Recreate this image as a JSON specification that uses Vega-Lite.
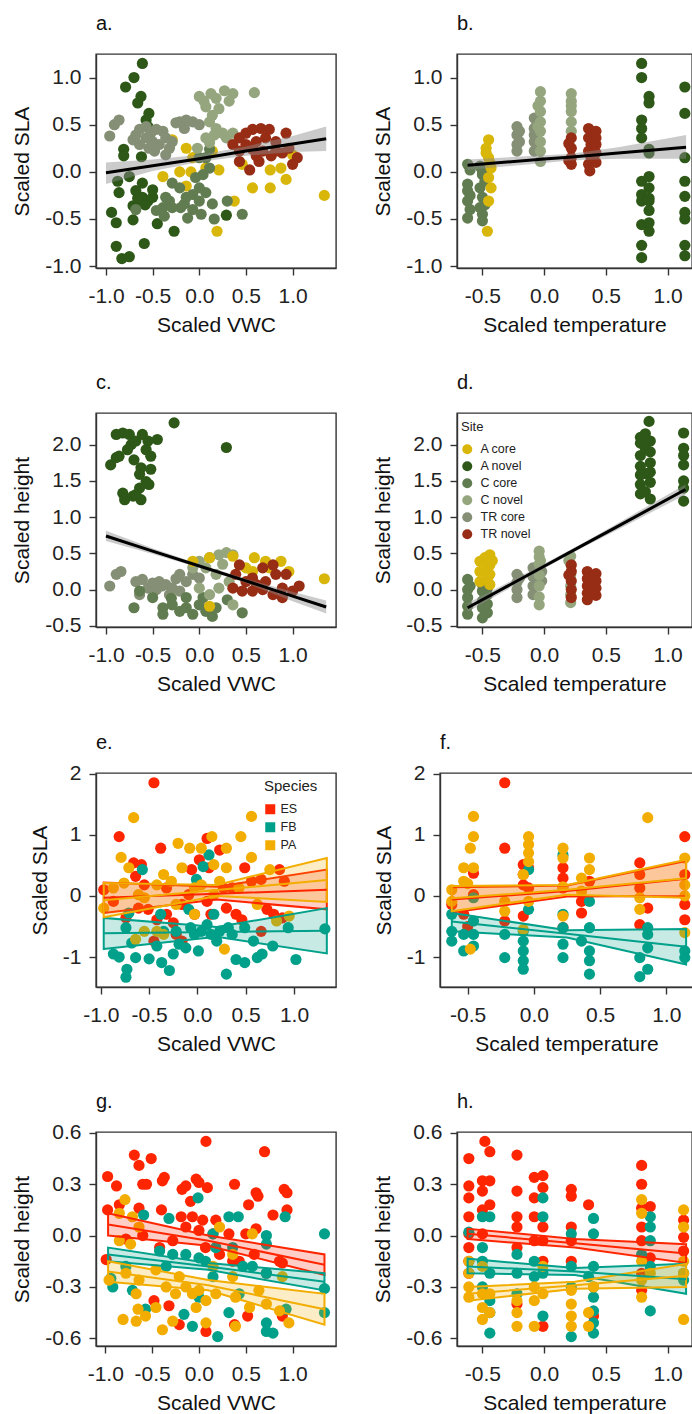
{
"$schema": "https://vega.github.io/schema/vega-lite/v6.json",
"padding": {"left": 11, "top": 13, "right": 0, "bottom": 0},
"background": "white",
"spacing": 36,
"resolve": {"scale": {"x": "independent", "y": "independent", "color": "independent", "stroke": "independent"}, "legend": {"color": "independent"}},
"vconcat": [
{"hconcat": [
{"title": {"text": "a."}, "width": 240, "height": 214,
 "encoding": {"x": {"field": "x", "type": "quantitative", "title": "Scaled VWC", "scale": {"domain": [-1.107, 1.465], "nice": false, "zero": false}, "axis": {"values": [-1, -0.5, 0, 0.5, 1], "labelExpr": "datum.value < 0 ? '-' + format(-datum.value, '.1f') : format(datum.value, '.1f')"}}},
 "layer": [
  {"data": {"name": "a"}, "mark": {"type": "circle", "size": 125, "opacity": 1}, "encoding": {"y": {"field": "y", "type": "quantitative", "title": "Scaled SLA", "scale": {"domain": [-1.02, 1.25], "nice": false, "zero": false}, "axis": {"values": [-1, -0.5, 0, 0.5, 1], "labelExpr": "datum.value < 0 ? '-' + format(-datum.value, '.1f') : format(datum.value, '.1f')"}}, "color": {"field": "site", "type": "nominal", "scale": {"domain": ["A core", "A novel", "C core", "C novel", "TR core", "TR novel"], "range": ["#D8B70A", "#2D5818", "#627C51", "#95A67F", "#858F75", "#972D15"]}, "legend": null}}},
  {"data": {"name": "aFit"}, "mark": {"type": "area", "color": "#8c8c8c", "opacity": 0.45}, "encoding": {"y": {"field": "lo", "type": "quantitative", "title": "Scaled SLA", "scale": {"domain": [-1.02, 1.25], "nice": false, "zero": false}}, "y2": {"field": "hi"}}},
  {"data": {"name": "aFit"}, "mark": {"type": "line", "color": "#000000", "strokeWidth": 3}, "encoding": {"y": {"field": "fit", "type": "quantitative", "title": "Scaled SLA", "scale": {"domain": [-1.02, 1.25], "nice": false, "zero": false}}}}
 ]},
{"title": {"text": "b."}, "width": 235, "height": 214,
 "encoding": {"x": {"field": "x", "type": "quantitative", "title": "Scaled temperature", "scale": {"domain": [-0.706, 1.198], "nice": false, "zero": false}, "axis": {"values": [-0.5, 0, 0.5, 1], "labelExpr": "datum.value < 0 ? '-' + format(-datum.value, '.1f') : format(datum.value, '.1f')"}}},
 "layer": [
  {"data": {"name": "b"}, "mark": {"type": "circle", "size": 125, "opacity": 1}, "encoding": {"y": {"field": "y", "type": "quantitative", "title": "Scaled SLA", "scale": {"domain": [-1.02, 1.25], "nice": false, "zero": false}, "axis": {"values": [-1, -0.5, 0, 0.5, 1], "labelExpr": "datum.value < 0 ? '-' + format(-datum.value, '.1f') : format(datum.value, '.1f')"}}, "color": {"field": "site", "type": "nominal", "scale": {"domain": ["A core", "A novel", "C core", "C novel", "TR core", "TR novel"], "range": ["#D8B70A", "#2D5818", "#627C51", "#95A67F", "#858F75", "#972D15"]}, "legend": null}}},
  {"data": {"name": "bFit"}, "mark": {"type": "area", "color": "#8c8c8c", "opacity": 0.45}, "encoding": {"y": {"field": "lo", "type": "quantitative", "title": "Scaled SLA", "scale": {"domain": [-1.02, 1.25], "nice": false, "zero": false}}, "y2": {"field": "hi"}}},
  {"data": {"name": "bFit"}, "mark": {"type": "line", "color": "#000000", "strokeWidth": 3}, "encoding": {"y": {"field": "fit", "type": "quantitative", "title": "Scaled SLA", "scale": {"domain": [-1.02, 1.25], "nice": false, "zero": false}}}}
 ]}
], "spacing": 35, "resolve": {"scale": {"x": "independent", "y": "independent", "color": "independent", "stroke": "independent"}, "legend": {"color": "independent"}}},
{"hconcat": [
{"title": {"text": "c."}, "width": 240, "height": 214,
 "encoding": {"x": {"field": "x", "type": "quantitative", "title": "Scaled VWC", "scale": {"domain": [-1.107, 1.465], "nice": false, "zero": false}, "axis": {"values": [-1, -0.5, 0, 0.5, 1], "labelExpr": "datum.value < 0 ? '-' + format(-datum.value, '.1f') : format(datum.value, '.1f')"}}},
 "layer": [
  {"data": {"name": "c"}, "mark": {"type": "circle", "size": 125, "opacity": 1}, "encoding": {"y": {"field": "y", "type": "quantitative", "title": "Scaled height", "scale": {"domain": [-0.516, 2.436], "nice": false, "zero": false}, "axis": {"values": [-0.5, 0, 0.5, 1, 1.5, 2], "labelExpr": "datum.value < 0 ? '-' + format(-datum.value, '.1f') : format(datum.value, '.1f')"}}, "color": {"field": "site", "type": "nominal", "scale": {"domain": ["A core", "A novel", "C core", "C novel", "TR core", "TR novel"], "range": ["#D8B70A", "#2D5818", "#627C51", "#95A67F", "#858F75", "#972D15"]}, "legend": null}}},
  {"data": {"name": "cFit"}, "mark": {"type": "area", "color": "#8c8c8c", "opacity": 0.45}, "encoding": {"y": {"field": "lo", "type": "quantitative", "title": "Scaled height", "scale": {"domain": [-0.516, 2.436], "nice": false, "zero": false}}, "y2": {"field": "hi"}}},
  {"data": {"name": "cFit"}, "mark": {"type": "line", "color": "#000000", "strokeWidth": 3}, "encoding": {"y": {"field": "fit", "type": "quantitative", "title": "Scaled height", "scale": {"domain": [-0.516, 2.436], "nice": false, "zero": false}}}}
 ]},
{"title": {"text": "d."}, "width": 235, "height": 214,
 "encoding": {"x": {"field": "x", "type": "quantitative", "title": "Scaled temperature", "scale": {"domain": [-0.706, 1.198], "nice": false, "zero": false}, "axis": {"values": [-0.5, 0, 0.5, 1], "labelExpr": "datum.value < 0 ? '-' + format(-datum.value, '.1f') : format(datum.value, '.1f')"}}},
 "layer": [
  {"data": {"name": "d"}, "mark": {"type": "circle", "size": 125, "opacity": 1}, "encoding": {"y": {"field": "y", "type": "quantitative", "title": "Scaled height", "scale": {"domain": [-0.516, 2.436], "nice": false, "zero": false}, "axis": {"values": [-0.5, 0, 0.5, 1, 1.5, 2], "labelExpr": "datum.value < 0 ? '-' + format(-datum.value, '.1f') : format(datum.value, '.1f')"}}, "color": {"field": "site", "type": "nominal", "scale": {"domain": ["A core", "A novel", "C core", "C novel", "TR core", "TR novel"], "range": ["#D8B70A", "#2D5818", "#627C51", "#95A67F", "#858F75", "#972D15"]}, "legend": {"title": "Site", "orient": "none", "legendX": 4, "legendY": 8, "titleFontSize": 13, "labelFontSize": 12.5, "symbolSize": 100, "symbolType": "circle", "rowPadding": 4, "labelOffset": 7, "titlePadding": 9, "symbolStrokeWidth": 0, "symbolOpacity": 1}}}},
  {"data": {"name": "dFit"}, "mark": {"type": "area", "color": "#8c8c8c", "opacity": 0.45}, "encoding": {"y": {"field": "lo", "type": "quantitative", "title": "Scaled height", "scale": {"domain": [-0.516, 2.436], "nice": false, "zero": false}}, "y2": {"field": "hi"}}},
  {"data": {"name": "dFit"}, "mark": {"type": "line", "color": "#000000", "strokeWidth": 3}, "encoding": {"y": {"field": "fit", "type": "quantitative", "title": "Scaled height", "scale": {"domain": [-0.516, 2.436], "nice": false, "zero": false}}}}
 ]}
], "spacing": 35, "resolve": {"scale": {"x": "independent", "y": "independent", "color": "independent", "stroke": "independent"}, "legend": {"color": "independent"}}},
{"hconcat": [
{"title": {"text": "e.", "offset": 10}, "width": 240, "height": 214,
 "encoding": {"x": {"field": "x", "type": "quantitative", "title": "Scaled VWC", "scale": {"domain": [-1.05, 1.435], "nice": false, "zero": false}, "axis": {"values": [-1, -0.5, 0, 0.5, 1], "labelExpr": "datum.value < 0 ? '-' + format(-datum.value, '.1f') : format(datum.value, '.1f')"}},
  "color": {"field": "species", "type": "nominal", "scale": {"domain": ["ES", "FB", "PA"], "range": ["#FF2500", "#00A08A", "#F2AD00"]}, "legend": {"title": "Species", "orient": "none", "legendX": 168, "legendY": 6, "symbolType": "square", "titleFontSize": 15, "labelFontSize": 12.5, "symbolSize": 100, "rowPadding": 5, "labelOffset": 4, "titlePadding": 9, "symbolOpacity": 1, "symbolStrokeWidth": 0}}},
 "layer": [
  {"data": {"name": "e"}, "mark": {"type": "circle", "size": 125, "opacity": 1}, "encoding": {"y": {"field": "y", "type": "quantitative", "title": "Scaled SLA", "scale": {"domain": [-1.49, 2.01], "nice": false, "zero": false}, "axis": {"values": [-1, 0, 1, 2], "labelExpr": "datum.value < 0 ? '-' + format(-datum.value, 'd') : format(datum.value, 'd')"}}}},
  {"data": {"name": "eFit"}, "mark": {"type": "area", "fillOpacity": 0.22, "strokeWidth": 2}, "encoding": {"y": {"field": "lo", "type": "quantitative", "title": "Scaled SLA", "scale": {"domain": [-1.49, 2.01], "nice": false, "zero": false}}, "y2": {"field": "hi"}, "stroke": {"field": "species", "type": "nominal", "scale": {"domain": ["ES", "FB", "PA"], "range": ["#FF2500", "#00A08A", "#F2AD00"]}, "legend": null}}},
  {"data": {"name": "eFit"}, "mark": {"type": "line", "strokeWidth": 2}, "encoding": {"y": {"field": "fit", "type": "quantitative", "title": "Scaled SLA", "scale": {"domain": [-1.49, 2.01], "nice": false, "zero": false}}}}
 ]},
{"title": {"text": "f.", "offset": 10}, "width": 253, "height": 214,
 "encoding": {"x": {"field": "x", "type": "quantitative", "title": "Scaled temperature", "scale": {"domain": [-0.709, 1.202], "nice": false, "zero": false}, "axis": {"values": [-0.5, 0, 0.5, 1], "labelExpr": "datum.value < 0 ? '-' + format(-datum.value, '.1f') : format(datum.value, '.1f')"}},
  "color": {"field": "species", "type": "nominal", "scale": {"domain": ["ES", "FB", "PA"], "range": ["#FF2500", "#00A08A", "#F2AD00"]}, "legend": null}},
 "layer": [
  {"data": {"name": "f"}, "mark": {"type": "circle", "size": 125, "opacity": 1}, "encoding": {"y": {"field": "y", "type": "quantitative", "title": "Scaled SLA", "scale": {"domain": [-1.49, 2.01], "nice": false, "zero": false}, "axis": {"values": [-1, 0, 1, 2], "labelExpr": "datum.value < 0 ? '-' + format(-datum.value, 'd') : format(datum.value, 'd')"}}}},
  {"data": {"name": "fFit"}, "mark": {"type": "area", "fillOpacity": 0.22, "strokeWidth": 2}, "encoding": {"y": {"field": "lo", "type": "quantitative", "title": "Scaled SLA", "scale": {"domain": [-1.49, 2.01], "nice": false, "zero": false}}, "y2": {"field": "hi"}, "stroke": {"field": "species", "type": "nominal", "scale": {"domain": ["ES", "FB", "PA"], "range": ["#FF2500", "#00A08A", "#F2AD00"]}, "legend": null}}},
  {"data": {"name": "fFit"}, "mark": {"type": "line", "strokeWidth": 2}, "encoding": {"y": {"field": "fit", "type": "quantitative", "title": "Scaled SLA", "scale": {"domain": [-1.49, 2.01], "nice": false, "zero": false}}}}
 ]}
], "spacing": 35, "resolve": {"scale": {"x": "independent", "y": "independent", "color": "independent", "stroke": "independent"}, "legend": {"color": "independent"}}},
{"hconcat": [
{"title": {"text": "g.", "offset": 10}, "width": 240, "height": 214,
 "encoding": {"x": {"field": "x", "type": "quantitative", "title": "Scaled VWC", "scale": {"domain": [-1.099, 1.463], "nice": false, "zero": false}, "axis": {"values": [-1, -0.5, 0, 0.5, 1], "labelExpr": "datum.value < 0 ? '-' + format(-datum.value, '.1f') : format(datum.value, '.1f')"}},
  "color": {"field": "species", "type": "nominal", "scale": {"domain": ["ES", "FB", "PA"], "range": ["#FF2500", "#00A08A", "#F2AD00"]}, "legend": null}},
 "layer": [
  {"data": {"name": "g"}, "mark": {"type": "circle", "size": 125, "opacity": 1}, "encoding": {"y": {"field": "y", "type": "quantitative", "title": "Scaled height", "scale": {"domain": [-0.645, 0.605], "nice": false, "zero": false}, "axis": {"values": [-0.6, -0.3, 0, 0.3, 0.6], "labelExpr": "datum.value < 0 ? '-' + format(-datum.value, '.1f') : format(datum.value, '.1f')"}}}},
  {"data": {"name": "gFit"}, "mark": {"type": "area", "fillOpacity": 0.22, "strokeWidth": 2}, "encoding": {"y": {"field": "lo", "type": "quantitative", "title": "Scaled height", "scale": {"domain": [-0.645, 0.605], "nice": false, "zero": false}}, "y2": {"field": "hi"}, "stroke": {"field": "species", "type": "nominal", "scale": {"domain": ["ES", "FB", "PA"], "range": ["#FF2500", "#00A08A", "#F2AD00"]}, "legend": null}}},
  {"data": {"name": "gFit"}, "mark": {"type": "line", "strokeWidth": 2}, "encoding": {"y": {"field": "fit", "type": "quantitative", "title": "Scaled height", "scale": {"domain": [-0.645, 0.605], "nice": false, "zero": false}}}}
 ]},
{"title": {"text": "h.", "offset": 10}, "width": 235, "height": 214,
 "encoding": {"x": {"field": "x", "type": "quantitative", "title": "Scaled temperature", "scale": {"domain": [-0.706, 1.198], "nice": false, "zero": false}, "axis": {"values": [-0.5, 0, 0.5, 1], "labelExpr": "datum.value < 0 ? '-' + format(-datum.value, '.1f') : format(datum.value, '.1f')"}},
  "color": {"field": "species", "type": "nominal", "scale": {"domain": ["ES", "FB", "PA"], "range": ["#FF2500", "#00A08A", "#F2AD00"]}, "legend": null}},
 "layer": [
  {"data": {"name": "h"}, "mark": {"type": "circle", "size": 125, "opacity": 1}, "encoding": {"y": {"field": "y", "type": "quantitative", "title": "Scaled height", "scale": {"domain": [-0.645, 0.605], "nice": false, "zero": false}, "axis": {"values": [-0.6, -0.3, 0, 0.3, 0.6], "labelExpr": "datum.value < 0 ? '-' + format(-datum.value, '.1f') : format(datum.value, '.1f')"}}}},
  {"data": {"name": "hFit"}, "mark": {"type": "area", "fillOpacity": 0.22, "strokeWidth": 2}, "encoding": {"y": {"field": "lo", "type": "quantitative", "title": "Scaled height", "scale": {"domain": [-0.645, 0.605], "nice": false, "zero": false}}, "y2": {"field": "hi"}, "stroke": {"field": "species", "type": "nominal", "scale": {"domain": ["ES", "FB", "PA"], "range": ["#FF2500", "#00A08A", "#F2AD00"]}, "legend": null}}},
  {"data": {"name": "hFit"}, "mark": {"type": "line", "strokeWidth": 2}, "encoding": {"y": {"field": "fit", "type": "quantitative", "title": "Scaled height", "scale": {"domain": [-0.645, 0.605], "nice": false, "zero": false}}}}
 ]}
], "spacing": 35, "resolve": {"scale": {"x": "independent", "y": "independent", "color": "independent", "stroke": "independent"}, "legend": {"color": "independent"}}}
],
"datasets": {
"a": [
{"site":"A core","x":-0.39,"y":-0.05},{"site":"A core","x":-0.14,"y":0.25},{"site":"A core","x":-0.21,"y":0.0},{"site":"A core","x":-0.14,"y":-0.15},{"site":"A core","x":-0.07,"y":0.15},{"site":"A core","x":-0.09,"y":0.0},{"site":"A core","x":0.07,"y":0.04},{"site":"A core","x":0.21,"y":0.02},{"site":"A core","x":0.19,"y":-0.63},{"site":"A core","x":0.375,"y":-0.31},{"site":"A core","x":0.46,"y":0.08},{"site":"A core","x":0.57,"y":-0.17},{"site":"A core","x":0.76,"y":-0.17},{"site":"A core","x":0.76,"y":0.02},{"site":"A core","x":0.875,"y":0.04},{"site":"A core","x":0.93,"y":-0.08},{"site":"A core","x":1.0,"y":0.18},{"site":"A core","x":1.34,"y":-0.25},{"site":"A core","x":-0.29,"y":0.34},{"site":"A core","x":0.14,"y":0.22},
{"site":"A novel","x":-0.61,"y":1.15},{"site":"A novel","x":-0.70,"y":1.0},{"site":"A novel","x":-0.79,"y":0.90},{"site":"A novel","x":-0.625,"y":0.80},{"site":"A novel","x":-0.66,"y":0.73},{"site":"A novel","x":-0.54,"y":0.62},{"site":"A novel","x":-0.57,"y":0.55},{"site":"A novel","x":-0.55,"y":0.48},{"site":"A novel","x":-0.81,"y":0.24},{"site":"A novel","x":-0.81,"y":0.17},{"site":"A novel","x":-0.62,"y":0.16},{"site":"A novel","x":-0.75,"y":-0.05},{"site":"A novel","x":-0.875,"y":-0.10},{"site":"A novel","x":-0.61,"y":-0.12},{"site":"A novel","x":-0.86,"y":-0.22},{"site":"A novel","x":-0.68,"y":-0.20},{"site":"A novel","x":-0.61,"y":-0.27},{"site":"A novel","x":-0.55,"y":-0.31},{"site":"A novel","x":-0.64,"y":-0.33},{"site":"A novel","x":-0.50,"y":-0.27},{"site":"A novel","x":-0.71,"y":-0.36},{"site":"A novel","x":-0.94,"y":-0.43},{"site":"A novel","x":-0.89,"y":-0.54},{"site":"A novel","x":-0.71,"y":-0.51},{"site":"A novel","x":-0.45,"y":-0.55},{"site":"A novel","x":-0.27,"y":-0.63},{"site":"A novel","x":0.29,"y":-0.46},{"site":"A novel","x":-0.89,"y":-0.79},{"site":"A novel","x":-0.59,"y":-0.76},{"site":"A novel","x":-0.83,"y":-0.92},{"site":"A novel","x":-0.75,"y":-0.90},{"site":"A novel","x":-0.5,"y":-0.19},{"site":"A novel","x":-0.58,"y":-0.35},{"site":"A novel","x":-0.66,"y":-0.28},
{"site":"C core","x":-0.39,"y":-0.38},{"site":"C core","x":-0.32,"y":-0.31},{"site":"C core","x":-0.29,"y":-0.12},{"site":"C core","x":-0.21,"y":-0.17},{"site":"C core","x":-0.14,"y":-0.27},{"site":"C core","x":-0.07,"y":-0.24},{"site":"C core","x":0.0,"y":-0.31},{"site":"C core","x":0.07,"y":-0.22},{"site":"C core","x":0.14,"y":-0.34},{"site":"C core","x":0.04,"y":-0.03},{"site":"C core","x":0.11,"y":0.04},{"site":"C core","x":0.07,"y":0.15},{"site":"C core","x":0.11,"y":0.24},{"site":"C core","x":-0.20,"y":-0.38},{"site":"C core","x":-0.125,"y":-0.49},{"site":"C core","x":0.02,"y":-0.45},{"site":"C core","x":0.16,"y":-0.50},{"site":"C core","x":-0.375,"y":-0.47},{"site":"C core","x":-0.46,"y":-0.41},{"site":"C core","x":0.30,"y":-0.31},{"site":"C core","x":0.46,"y":-0.45},{"site":"C core","x":-0.68,"y":-0.40},{"site":"C core","x":-0.04,"y":-0.06},{"site":"C core","x":-0.29,"y":-0.38},{"site":"C core","x":-0.07,"y":-0.40},{"site":"C core","x":0.0,"y":-0.17},{"site":"C core","x":-0.16,"y":-0.34},{"site":"C core","x":-0.36,"y":-0.27},{"site":"C core","x":0.0,"y":0.15},
{"site":"C novel","x":0.0,"y":0.80},{"site":"C novel","x":0.05,"y":0.75},{"site":"C novel","x":0.125,"y":0.83},{"site":"C novel","x":0.18,"y":0.78},{"site":"C novel","x":0.27,"y":0.86},{"site":"C novel","x":0.36,"y":0.83},{"site":"C novel","x":0.21,"y":0.67},{"site":"C novel","x":0.14,"y":0.60},{"site":"C novel","x":0.11,"y":0.53},{"site":"C novel","x":0.18,"y":0.46},{"site":"C novel","x":0.25,"y":0.41},{"site":"C novel","x":0.36,"y":0.41},{"site":"C novel","x":0.07,"y":0.36},{"site":"C novel","x":-0.02,"y":0.25},{"site":"C novel","x":0.11,"y":0.31},{"site":"C novel","x":0.59,"y":0.84},{"site":"C novel","x":0.32,"y":0.75},{"site":"C novel","x":0.07,"y":0.69},{"site":"C novel","x":0.16,"y":0.39},{"site":"C novel","x":0.29,"y":0.36},
{"site":"TR core","x":-0.96,"y":0.38},{"site":"TR core","x":-0.91,"y":0.50},{"site":"TR core","x":-0.86,"y":0.55},{"site":"TR core","x":-0.68,"y":0.39},{"site":"TR core","x":-0.64,"y":0.45},{"site":"TR core","x":-0.57,"y":0.48},{"site":"TR core","x":-0.52,"y":0.41},{"site":"TR core","x":-0.46,"y":0.45},{"site":"TR core","x":-0.39,"y":0.43},{"site":"TR core","x":-0.36,"y":0.36},{"site":"TR core","x":-0.29,"y":0.32},{"site":"TR core","x":-0.21,"y":0.53},{"site":"TR core","x":-0.16,"y":0.46},{"site":"TR core","x":-0.07,"y":0.53},{"site":"TR core","x":-0.14,"y":0.55},{"site":"TR core","x":0.0,"y":0.50},{"site":"TR core","x":-0.64,"y":0.29},{"site":"TR core","x":-0.54,"y":0.25},{"site":"TR core","x":-0.43,"y":0.29},{"site":"TR core","x":-0.48,"y":0.22},{"site":"TR core","x":-0.32,"y":0.25},{"site":"TR core","x":-0.57,"y":0.36},{"site":"TR core","x":-0.71,"y":0.34},{"site":"TR core","x":-0.36,"y":0.18},{"site":"TR core","x":-0.5,"y":0.32},{"site":"TR core","x":-0.25,"y":0.52},
{"site":"TR novel","x":0.36,"y":0.29},{"site":"TR novel","x":0.43,"y":0.36},{"site":"TR novel","x":0.5,"y":0.41},{"site":"TR novel","x":0.57,"y":0.45},{"site":"TR novel","x":0.66,"y":0.46},{"site":"TR novel","x":0.75,"y":0.45},{"site":"TR novel","x":0.93,"y":0.41},{"site":"TR novel","x":0.5,"y":0.29},{"site":"TR novel","x":0.61,"y":0.32},{"site":"TR novel","x":0.71,"y":0.36},{"site":"TR novel","x":0.82,"y":0.32},{"site":"TR novel","x":0.43,"y":0.11},{"site":"TR novel","x":0.54,"y":0.02},{"site":"TR novel","x":0.64,"y":0.11},{"site":"TR novel","x":0.77,"y":0.17},{"site":"TR novel","x":0.89,"y":0.20},{"site":"TR novel","x":1.05,"y":0.15},{"site":"TR novel","x":1.0,"y":0.08},{"site":"TR novel","x":0.57,"y":0.24},{"site":"TR novel","x":0.82,"y":0.22},{"site":"TR novel","x":0.68,"y":0.22},{"site":"TR novel","x":0.43,"y":0.22},{"site":"TR novel","x":0.96,"y":0.25},{"site":"TR novel","x":0.61,"y":0.17}
],
"aFit": [
{"x":-1.0,"lo":-0.13,"fit":-0.01,"hi":0.10},{"x":-0.5,"lo":0.01,"fit":0.065,"hi":0.13},{"x":0.0,"lo":0.105,"fit":0.14,"hi":0.18},{"x":0.5,"lo":0.17,"fit":0.22,"hi":0.27},{"x":1.0,"lo":0.21,"fit":0.295,"hi":0.38},{"x":1.36,"lo":0.22,"fit":0.35,"hi":0.48}
],
"b": [
{"site":"C core","x":-0.62,"y":0.08},{"site":"C core","x":-0.62,"y":-0.13},{"site":"C core","x":-0.62,"y":-0.2},{"site":"C core","x":-0.62,"y":-0.31},{"site":"C core","x":-0.62,"y":-0.49},{"site":"C core","x":-0.6,"y":0.02},{"site":"C core","x":-0.6,"y":-0.25},{"site":"C core","x":-0.52,"y":0.06},{"site":"C core","x":-0.5,"y":-0.03},{"site":"C core","x":-0.52,"y":-0.17},{"site":"C core","x":-0.5,"y":-0.27},{"site":"C core","x":-0.52,"y":-0.38},{"site":"C core","x":-0.5,"y":-0.45},{"site":"C core","x":-0.5,"y":-0.52},{"site":"C core","x":-0.48,"y":-0.1},{"site":"C core","x":-0.48,"y":-0.35},{"site":"C core","x":-0.6,"y":-0.4},{"site":"C core","x":-0.5,"y":0.0},
{"site":"A core","x":-0.45,"y":0.34},{"site":"A core","x":-0.47,"y":0.25},{"site":"A core","x":-0.45,"y":0.15},{"site":"A core","x":-0.43,"y":0.04},{"site":"A core","x":-0.45,"y":-0.06},{"site":"A core","x":-0.43,"y":-0.17},{"site":"A core","x":-0.45,"y":-0.31},{"site":"A core","x":-0.46,"y":-0.63},{"site":"A core","x":-0.47,"y":0.2},{"site":"A core","x":-0.44,"y":0.1},
{"site":"TR core","x":-0.22,"y":0.48},{"site":"TR core","x":-0.22,"y":0.39},{"site":"TR core","x":-0.22,"y":0.29},{"site":"TR core","x":-0.22,"y":0.22},{"site":"TR core","x":-0.2,"y":0.43},{"site":"TR core","x":-0.2,"y":0.32},{"site":"TR core","x":-0.08,"y":0.57},{"site":"TR core","x":-0.08,"y":0.46},{"site":"TR core","x":-0.08,"y":0.39},{"site":"TR core","x":-0.08,"y":0.32},{"site":"TR core","x":-0.08,"y":0.22},{"site":"TR core","x":-0.06,"y":0.5},{"site":"TR core","x":-0.06,"y":0.27},
{"site":"C novel","x":-0.03,"y":0.85},{"site":"C novel","x":-0.03,"y":0.75},{"site":"C novel","x":-0.03,"y":0.64},{"site":"C novel","x":-0.03,"y":0.53},{"site":"C novel","x":-0.03,"y":0.43},{"site":"C novel","x":-0.03,"y":0.32},{"site":"C novel","x":-0.03,"y":0.22},{"site":"C novel","x":-0.03,"y":0.11},{"site":"C novel","x":-0.05,"y":0.7},{"site":"C novel","x":-0.05,"y":0.48},{"site":"C novel","x":0.22,"y":0.83},{"site":"C novel","x":0.22,"y":0.75},{"site":"C novel","x":0.22,"y":0.64},{"site":"C novel","x":0.22,"y":0.53},{"site":"C novel","x":0.22,"y":0.43},{"site":"C novel","x":0.22,"y":0.7},
{"site":"TR novel","x":0.22,"y":0.36},{"site":"TR novel","x":0.22,"y":0.25},{"site":"TR novel","x":0.22,"y":0.15},{"site":"TR novel","x":0.22,"y":0.08},{"site":"TR novel","x":0.2,"y":0.3},{"site":"TR novel","x":0.2,"y":0.12},{"site":"TR novel","x":0.36,"y":0.46},{"site":"TR novel","x":0.38,"y":0.43},{"site":"TR novel","x":0.36,"y":0.36},{"site":"TR novel","x":0.38,"y":0.29},{"site":"TR novel","x":0.36,"y":0.22},{"site":"TR novel","x":0.38,"y":0.15},{"site":"TR novel","x":0.36,"y":0.08},{"site":"TR novel","x":0.37,"y":0.01},{"site":"TR novel","x":0.42,"y":0.43},{"site":"TR novel","x":0.42,"y":0.36},{"site":"TR novel","x":0.42,"y":0.29},{"site":"TR novel","x":0.42,"y":0.2},{"site":"TR novel","x":0.42,"y":0.1},
{"site":"A novel","x":0.79,"y":1.15},{"site":"A novel","x":0.79,"y":1.0},{"site":"A novel","x":0.79,"y":0.55},{"site":"A novel","x":0.79,"y":0.46},{"site":"A novel","x":0.79,"y":0.36},{"site":"A novel","x":0.79,"y":-0.1},{"site":"A novel","x":0.79,"y":-0.24},{"site":"A novel","x":0.79,"y":-0.31},{"site":"A novel","x":0.79,"y":-0.56},{"site":"A novel","x":0.79,"y":-0.78},{"site":"A novel","x":0.79,"y":-0.91},{"site":"A novel","x":0.85,"y":0.80},{"site":"A novel","x":0.85,"y":0.73},{"site":"A novel","x":0.85,"y":0.24},{"site":"A novel","x":0.85,"y":-0.05},{"site":"A novel","x":0.85,"y":-0.17},{"site":"A novel","x":0.85,"y":-0.31},{"site":"A novel","x":0.85,"y":-0.41},{"site":"A novel","x":0.85,"y":-0.54},{"site":"A novel","x":0.85,"y":-0.63},{"site":"A novel","x":0.85,"y":0.2},{"site":"A novel","x":0.85,"y":-0.28},{"site":"A novel","x":1.14,"y":0.90},{"site":"A novel","x":1.14,"y":0.62},{"site":"A novel","x":1.14,"y":0.15},{"site":"A novel","x":1.14,"y":-0.1},{"site":"A novel","x":1.14,"y":-0.26},{"site":"A novel","x":1.14,"y":-0.43},{"site":"A novel","x":1.14,"y":-0.50},{"site":"A novel","x":1.14,"y":-0.78},{"site":"A novel","x":1.14,"y":-0.89}
],
"bFit": [
{"x":-0.62,"lo":0.02,"fit":0.07,"hi":0.13},{"x":0.0,"lo":0.095,"fit":0.135,"hi":0.175},{"x":0.2,"lo":0.12,"fit":0.155,"hi":0.19},{"x":0.6,"lo":0.14,"fit":0.2,"hi":0.26},{"x":1.15,"lo":0.14,"fit":0.26,"hi":0.39}
],
"c": [
{"site":"A novel","x":-0.95,"y":1.72},{"site":"A novel","x":-0.89,"y":1.82},{"site":"A novel","x":-0.86,"y":1.84},{"site":"A novel","x":-0.89,"y":2.14},{"site":"A novel","x":-0.82,"y":2.16},{"site":"A novel","x":-0.75,"y":2.14},{"site":"A novel","x":-0.73,"y":2.0},{"site":"A novel","x":-0.68,"y":2.05},{"site":"A novel","x":-0.77,"y":1.93},{"site":"A novel","x":-0.70,"y":1.79},{"site":"A novel","x":-0.61,"y":2.14},{"site":"A novel","x":-0.55,"y":2.05},{"site":"A novel","x":-0.45,"y":2.07},{"site":"A novel","x":-0.57,"y":1.93},{"site":"A novel","x":-0.52,"y":1.84},{"site":"A novel","x":-0.625,"y":1.68},{"site":"A novel","x":-0.52,"y":1.66},{"site":"A novel","x":-0.64,"y":1.59},{"site":"A novel","x":-0.57,"y":1.49},{"site":"A novel","x":-0.54,"y":1.45},{"site":"A novel","x":-0.64,"y":1.40},{"site":"A novel","x":-0.82,"y":1.33},{"site":"A novel","x":-0.80,"y":1.24},{"site":"A novel","x":-0.71,"y":1.29},{"site":"A novel","x":-0.625,"y":1.24},{"site":"A novel","x":-0.68,"y":1.31},{"site":"A novel","x":-0.27,"y":2.30},{"site":"A novel","x":0.29,"y":1.96},
{"site":"TR core","x":-0.96,"y":0.05},{"site":"TR core","x":-0.89,"y":0.21},{"site":"TR core","x":-0.84,"y":0.25},{"site":"TR core","x":-0.68,"y":0.11},{"site":"TR core","x":-0.61,"y":0.14},{"site":"TR core","x":-0.55,"y":0.02},{"site":"TR core","x":-0.5,"y":0.09},{"site":"TR core","x":-0.43,"y":0.11},{"site":"TR core","x":-0.36,"y":0.07},{"site":"TR core","x":-0.29,"y":0.02},{"site":"TR core","x":-0.21,"y":0.21},{"site":"TR core","x":-0.14,"y":0.11},{"site":"TR core","x":-0.07,"y":0.21},{"site":"TR core","x":0.0,"y":0.16},{"site":"TR core","x":-0.46,"y":0.0},{"site":"TR core","x":-0.64,"y":-0.07},{"site":"TR core","x":-0.32,"y":-0.07},{"site":"TR core","x":-0.21,"y":-0.02},{"site":"TR core","x":-0.25,"y":0.15},{"site":"TR core","x":-0.4,"y":0.05},
{"site":"C core","x":-0.7,"y":-0.25},{"site":"C core","x":-0.39,"y":-0.25},{"site":"C core","x":-0.39,"y":-0.34},{"site":"C core","x":-0.29,"y":-0.21},{"site":"C core","x":-0.21,"y":-0.3},{"site":"C core","x":-0.14,"y":-0.25},{"site":"C core","x":-0.07,"y":-0.34},{"site":"C core","x":0.0,"y":-0.21},{"site":"C core","x":0.07,"y":-0.3},{"site":"C core","x":0.14,"y":-0.37},{"site":"C core","x":0.04,"y":-0.11},{"site":"C core","x":0.46,"y":-0.32},{"site":"C core","x":0.3,"y":-0.14},{"site":"C core","x":-0.64,"y":-0.02},{"site":"C core","x":-0.5,"y":-0.11},{"site":"C core","x":-0.14,"y":-0.11},{"site":"C core","x":0.18,"y":-0.25},{"site":"C core","x":-0.3,"y":-0.12},
{"site":"C novel","x":0.0,"y":0.39},{"site":"C novel","x":0.11,"y":0.44},{"site":"C novel","x":0.21,"y":0.48},{"site":"C novel","x":0.29,"y":0.51},{"site":"C novel","x":0.36,"y":0.48},{"site":"C novel","x":0.07,"y":0.3},{"site":"C novel","x":0.18,"y":0.21},{"site":"C novel","x":0.32,"y":0.11},{"site":"C novel","x":0.0,"y":0.02},{"site":"C novel","x":0.11,"y":-0.07},{"site":"C novel","x":0.36,"y":-0.21},{"site":"C novel","x":-0.07,"y":0.3},{"site":"C novel","x":0.21,"y":0.02},{"site":"C novel","x":0.25,"y":0.35},
{"site":"A core","x":-0.07,"y":0.39},{"site":"A core","x":0.11,"y":0.44},{"site":"A core","x":0.36,"y":0.46},{"site":"A core","x":0.59,"y":0.44},{"site":"A core","x":0.875,"y":0.39},{"site":"A core","x":0.96,"y":0.25},{"site":"A core","x":1.34,"y":0.15},{"site":"A core","x":0.57,"y":0.25},{"site":"A core","x":0.5,"y":0.3},{"site":"A core","x":0.75,"y":0.3},{"site":"A core","x":0.11,"y":-0.23},{"site":"A core","x":0.71,"y":0.39},
{"site":"TR novel","x":0.43,"y":0.34},{"site":"TR novel","x":0.39,"y":0.21},{"site":"TR novel","x":0.5,"y":0.11},{"site":"TR novel","x":0.61,"y":0.07},{"site":"TR novel","x":0.71,"y":0.11},{"site":"TR novel","x":0.68,"y":0.3},{"site":"TR novel","x":0.79,"y":0.34},{"site":"TR novel","x":0.82,"y":0.21},{"site":"TR novel","x":0.93,"y":0.21},{"site":"TR novel","x":1.07,"y":0.05},{"site":"TR novel","x":1.0,"y":-0.02},{"site":"TR novel","x":0.89,"y":-0.11},{"site":"TR novel","x":0.79,"y":-0.07},{"site":"TR novel","x":0.57,"y":-0.02},{"site":"TR novel","x":0.46,"y":-0.02},{"site":"TR novel","x":0.36,"y":0.02},{"site":"TR novel","x":0.68,"y":0.0},{"site":"TR novel","x":0.89,"y":0.02},{"site":"TR novel","x":0.57,"y":0.16}
],
"cFit": [
{"x":-1.0,"lo":0.67,"fit":0.74,"hi":0.81},{"x":-0.5,"lo":0.49,"fit":0.53,"hi":0.57},{"x":0.0,"lo":0.3,"fit":0.325,"hi":0.35},{"x":0.5,"lo":0.09,"fit":0.12,"hi":0.15},{"x":1.0,"lo":-0.16,"fit":-0.09,"hi":-0.03},{"x":1.36,"lo":-0.33,"fit":-0.24,"hi":-0.15}
],
"d": [
{"site":"C core","x":-0.62,"y":0.14},{"site":"C core","x":-0.62,"y":0.0},{"site":"C core","x":-0.62,"y":-0.11},{"site":"C core","x":-0.62,"y":-0.23},{"site":"C core","x":-0.62,"y":-0.34},{"site":"C core","x":-0.5,"y":0.07},{"site":"C core","x":-0.5,"y":-0.02},{"site":"C core","x":-0.5,"y":-0.16},{"site":"C core","x":-0.5,"y":-0.25},{"site":"C core","x":-0.5,"y":-0.39},{"site":"C core","x":-0.46,"y":0.02},{"site":"C core","x":-0.46,"y":-0.07},{"site":"C core","x":-0.46,"y":-0.2},{"site":"C core","x":-0.46,"y":-0.32},{"site":"C core","x":-0.6,"y":0.05},{"site":"C core","x":-0.48,"y":-0.1},
{"site":"A core","x":-0.52,"y":0.39},{"site":"A core","x":-0.52,"y":0.25},{"site":"A core","x":-0.44,"y":0.48},{"site":"A core","x":-0.44,"y":0.34},{"site":"A core","x":-0.44,"y":0.21},{"site":"A core","x":-0.44,"y":0.07},{"site":"A core","x":-0.52,"y":0.11},{"site":"A core","x":-0.48,"y":0.44},{"site":"A core","x":-0.46,"y":0.3},{"site":"A core","x":-0.46,"y":0.15},{"site":"A core","x":-0.42,"y":0.4},
{"site":"TR core","x":-0.22,"y":0.21},{"site":"TR core","x":-0.22,"y":0.1},{"site":"TR core","x":-0.22,"y":0.0},{"site":"TR core","x":-0.22,"y":-0.11},{"site":"TR core","x":-0.2,"y":0.16},{"site":"TR core","x":-0.09,"y":0.3},{"site":"TR core","x":-0.09,"y":0.18},{"site":"TR core","x":-0.09,"y":0.05},{"site":"TR core","x":-0.09,"y":-0.07},{"site":"TR core","x":-0.02,"y":0.25},{"site":"TR core","x":-0.02,"y":0.12},{"site":"TR core","x":-0.05,"y":0.2},
{"site":"C novel","x":-0.04,"y":0.53},{"site":"C novel","x":-0.04,"y":0.45},{"site":"C novel","x":-0.04,"y":0.35},{"site":"C novel","x":-0.04,"y":0.2},{"site":"C novel","x":-0.04,"y":0.05},{"site":"C novel","x":-0.04,"y":-0.1},{"site":"C novel","x":-0.04,"y":-0.21},{"site":"C novel","x":-0.03,"y":0.4},{"site":"C novel","x":0.215,"y":0.46},{"site":"C novel","x":0.215,"y":0.35},{"site":"C novel","x":0.215,"y":0.2},{"site":"C novel","x":0.215,"y":0.05},{"site":"C novel","x":0.215,"y":-0.07},{"site":"C novel","x":0.215,"y":-0.18},{"site":"C novel","x":0.2,"y":0.4},
{"site":"TR novel","x":0.22,"y":0.34},{"site":"TR novel","x":0.22,"y":0.25},{"site":"TR novel","x":0.22,"y":0.12},{"site":"TR novel","x":0.22,"y":0.0},{"site":"TR novel","x":0.22,"y":-0.11},{"site":"TR novel","x":0.2,"y":0.2},{"site":"TR novel","x":0.35,"y":0.25},{"site":"TR novel","x":0.35,"y":0.15},{"site":"TR novel","x":0.35,"y":0.05},{"site":"TR novel","x":0.35,"y":-0.05},{"site":"TR novel","x":0.35,"y":-0.14},{"site":"TR novel","x":0.42,"y":0.22},{"site":"TR novel","x":0.42,"y":0.12},{"site":"TR novel","x":0.42,"y":0.02},{"site":"TR novel","x":0.42,"y":-0.08},{"site":"TR novel","x":0.4,"y":0.18},
{"site":"A novel","x":0.78,"y":2.1},{"site":"A novel","x":0.78,"y":2.02},{"site":"A novel","x":0.78,"y":1.85},{"site":"A novel","x":0.78,"y":1.7},{"site":"A novel","x":0.78,"y":1.58},{"site":"A novel","x":0.78,"y":1.45},{"site":"A novel","x":0.78,"y":1.32},{"site":"A novel","x":0.82,"y":2.15},{"site":"A novel","x":0.82,"y":1.95},{"site":"A novel","x":0.82,"y":1.6},{"site":"A novel","x":0.82,"y":1.35},{"site":"A novel","x":0.85,"y":2.32},{"site":"A novel","x":0.86,"y":2.05},{"site":"A novel","x":0.86,"y":1.9},{"site":"A novel","x":0.86,"y":1.75},{"site":"A novel","x":0.86,"y":1.62},{"site":"A novel","x":0.86,"y":1.48},{"site":"A novel","x":0.86,"y":1.25},{"site":"A novel","x":1.13,"y":2.16},{"site":"A novel","x":1.13,"y":1.95},{"site":"A novel","x":1.13,"y":1.85},{"site":"A novel","x":1.13,"y":1.72},{"site":"A novel","x":1.13,"y":1.5},{"site":"A novel","x":1.13,"y":1.4},{"site":"A novel","x":1.13,"y":1.22}
],
"dFit": [
{"x":-0.62,"lo":-0.31,"fit":-0.25,"hi":-0.19},{"x":0.0,"lo":0.29,"fit":0.322,"hi":0.355},{"x":0.3,"lo":0.57,"fit":0.6,"hi":0.63},{"x":0.6,"lo":0.83,"fit":0.876,"hi":0.92},{"x":1.145,"lo":1.31,"fit":1.38,"hi":1.45}
],
"e": [
{"species":"ES","x":-0.45,"y":1.85},{"species":"ES","x":-0.81,"y":0.97},{"species":"ES","x":-0.38,"y":0.78},{"species":"ES","x":0.23,"y":0.75},{"species":"ES","x":0.10,"y":0.94},{"species":"ES","x":-0.66,"y":0.54},{"species":"ES","x":-0.58,"y":0.51},{"species":"ES","x":-0.64,"y":0.32},{"species":"ES","x":-0.55,"y":0.18},{"species":"ES","x":-0.06,"y":0.43},{"species":"ES","x":0.02,"y":0.59},{"species":"ES","x":0.12,"y":0.46},{"species":"ES","x":0.49,"y":0.46},{"species":"ES","x":0.85,"y":0.43},{"species":"ES","x":0.9,"y":0.24},{"species":"ES","x":-0.97,"y":0.10},{"species":"ES","x":-0.87,"y":-0.09},{"species":"ES","x":-0.74,"y":-0.36},{"species":"ES","x":-0.51,"y":-0.22},{"species":"ES","x":-0.42,"y":-0.39},{"species":"ES","x":-0.32,"y":-0.30},{"species":"ES","x":-0.25,"y":-0.44},{"species":"ES","x":-0.16,"y":-0.14},{"species":"ES","x":-0.09,"y":0.02},{"species":"ES","x":-0.03,"y":-0.30},{"species":"ES","x":0.1,"y":-0.09},{"species":"ES","x":0.3,"y":-0.2},{"species":"ES","x":0.4,"y":-0.30},{"species":"ES","x":0.46,"y":-0.39},{"species":"ES","x":0.56,"y":0.24},{"species":"ES","x":0.66,"y":0.27},{"species":"ES","x":0.72,"y":-0.22},{"species":"ES","x":0.79,"y":-0.30},{"species":"ES","x":0.88,"y":-0.36},{"species":"ES","x":0.66,"y":-0.58},{"species":"ES","x":-0.22,"y":-0.63},{"species":"ES","x":-0.16,"y":-0.74},{"species":"ES","x":-0.45,"y":-0.74},{"species":"ES","x":-0.32,"y":0.13},{"species":"ES","x":0.27,"y":0.13},{"species":"ES","x":-0.61,"y":-0.2},{"species":"ES","x":0.36,"y":0.13},{"species":"ES","x":0.14,"y":-0.3},
{"species":"FB","x":-0.57,"y":0.43},{"species":"FB","x":-0.01,"y":0.27},{"species":"FB","x":0.12,"y":0.67},{"species":"FB","x":0.06,"y":0.48},{"species":"FB","x":-0.09,"y":-0.22},{"species":"FB","x":-0.71,"y":-0.28},{"species":"FB","x":-0.74,"y":-0.52},{"species":"FB","x":-0.68,"y":-0.77},{"species":"FB","x":-0.81,"y":-1.0},{"species":"FB","x":-0.73,"y":-1.2},{"species":"FB","x":-0.74,"y":-1.33},{"species":"FB","x":-0.64,"y":-1.01},{"species":"FB","x":-0.50,"y":-1.03},{"species":"FB","x":-0.37,"y":-1.09},{"species":"FB","x":-0.29,"y":-1.22},{"species":"FB","x":-0.25,"y":-0.95},{"species":"FB","x":-0.42,"y":-0.82},{"species":"FB","x":-0.19,"y":-0.79},{"species":"FB","x":-0.12,"y":-0.85},{"species":"FB","x":0.01,"y":-0.90},{"species":"FB","x":0.04,"y":-0.58},{"species":"FB","x":0.10,"y":-0.47},{"species":"FB","x":0.17,"y":-0.30},{"species":"FB","x":0.2,"y":-0.74},{"species":"FB","x":0.30,"y":-1.28},{"species":"FB","x":0.32,"y":-0.52},{"species":"FB","x":0.40,"y":-1.04},{"species":"FB","x":0.49,"y":-1.09},{"species":"FB","x":0.58,"y":-0.74},{"species":"FB","x":0.62,"y":-1.01},{"species":"FB","x":0.67,"y":-0.95},{"species":"FB","x":0.78,"y":-0.82},{"species":"FB","x":0.94,"y":-0.52},{"species":"FB","x":1.02,"y":-1.04},{"species":"FB","x":1.32,"y":-0.54},{"species":"FB","x":0.49,"y":-0.52},{"species":"FB","x":0.36,"y":-0.63},{"species":"FB","x":-0.07,"y":-0.52},{"species":"FB","x":-0.03,"y":-0.63},{"species":"FB","x":0.14,"y":-0.63},{"species":"FB","x":-0.22,"y":-0.58},{"species":"FB","x":-0.35,"y":-0.58},{"species":"FB","x":-0.87,"y":-0.95},{"species":"FB","x":0.23,"y":-0.58},{"species":"FB","x":-0.38,"y":-0.3},
{"species":"PA","x":-0.66,"y":1.28},{"species":"PA","x":0.56,"y":1.30},{"species":"PA","x":0.45,"y":0.97},{"species":"PA","x":0.15,"y":0.97},{"species":"PA","x":-0.2,"y":0.86},{"species":"PA","x":-0.08,"y":0.78},{"species":"PA","x":0.04,"y":0.78},{"species":"PA","x":0.30,"y":0.78},{"species":"PA","x":-0.79,"y":0.63},{"species":"PA","x":0.56,"y":0.63},{"species":"PA","x":-0.71,"y":0.46},{"species":"PA","x":-0.35,"y":0.35},{"species":"PA","x":-0.27,"y":0.24},{"species":"PA","x":-0.16,"y":0.46},{"species":"PA","x":0.17,"y":0.51},{"species":"PA","x":0.30,"y":0.46},{"species":"PA","x":0.75,"y":0.43},{"species":"PA","x":-0.76,"y":0.21},{"species":"PA","x":-0.42,"y":0.18},{"species":"PA","x":-0.03,"y":0.13},{"species":"PA","x":0.43,"y":0.13},{"species":"PA","x":-0.97,"y":-0.20},{"species":"PA","x":-0.55,"y":-0.03},{"species":"PA","x":-0.64,"y":-0.71},{"species":"PA","x":-0.55,"y":-0.58},{"species":"PA","x":-0.42,"y":-0.58},{"species":"PA","x":-0.35,"y":-0.63},{"species":"PA","x":-0.03,"y":-0.30},{"species":"PA","x":0.28,"y":-0.87},{"species":"PA","x":0.82,"y":-0.41},{"species":"PA","x":0.95,"y":-0.33},{"species":"PA","x":0.62,"y":-0.14},{"species":"PA","x":0.17,"y":0.02},{"species":"PA","x":-0.22,"y":-0.14},{"species":"PA","x":0.04,"y":0.18},{"species":"PA","x":0.23,"y":0.24},{"species":"PA","x":-0.61,"y":0.02},{"species":"PA","x":-0.87,"y":0.13}
],
"eFit": [
{"species":"ES","x":-0.97,"lo":-0.28,"fit":-0.03,"hi":0.22},{"species":"ES","x":0.2,"lo":-0.06,"fit":0.035,"hi":0.15},{"species":"ES","x":1.34,"lo":-0.22,"fit":0.10,"hi":0.43},
{"species":"FB","x":-0.97,"lo":-0.87,"fit":-0.61,"hi":-0.36},{"species":"FB","x":0.2,"lo":-0.67,"fit":-0.59,"hi":-0.51},{"species":"FB","x":1.34,"lo":-0.94,"fit":-0.57,"hi":-0.2},
{"species":"PA","x":-0.97,"lo":-0.35,"fit":-0.07,"hi":0.21},{"species":"PA","x":0.2,"lo":0.0,"fit":0.095,"hi":0.18},{"species":"PA","x":1.34,"lo":-0.1,"fit":0.26,"hi":0.62}
],
"f": [
{"species":"ES","x":-0.22,"y":1.85},{"species":"ES","x":-0.22,"y":0.78},{"species":"ES","x":-0.456,"y":0.37},{"species":"ES","x":-0.62,"y":-0.14},{"species":"ES","x":-0.53,"y":-0.3},{"species":"ES","x":-0.456,"y":0.02},{"species":"ES","x":-0.08,"y":0.51},{"species":"ES","x":-0.08,"y":0.35},{"species":"ES","x":-0.08,"y":0.18},{"species":"ES","x":-0.08,"y":-0.33},{"species":"ES","x":-0.04,"y":0.46},{"species":"ES","x":0.22,"y":0.46},{"species":"ES","x":0.22,"y":0.29},{"species":"ES","x":0.22,"y":0.13},{"species":"ES","x":0.22,"y":-0.52},{"species":"ES","x":0.42,"y":0.24},{"species":"ES","x":0.36,"y":-0.28},{"species":"ES","x":0.36,"y":-0.09},{"species":"ES","x":0.80,"y":0.54},{"species":"ES","x":0.80,"y":0.35},{"species":"ES","x":0.80,"y":0.13},{"species":"ES","x":0.80,"y":-0.47},{"species":"ES","x":0.86,"y":-0.2},{"species":"ES","x":1.14,"y":0.97},{"species":"ES","x":1.14,"y":0.35},{"species":"ES","x":1.14,"y":-0.14},{"species":"ES","x":1.14,"y":-0.39},{"species":"ES","x":-0.22,"y":-0.41},{"species":"ES","x":-0.04,"y":0.13},{"species":"ES","x":-0.5,"y":-0.5},
{"species":"FB","x":-0.04,"y":0.43},{"species":"FB","x":0.22,"y":0.67},{"species":"FB","x":0.22,"y":-0.30},{"species":"FB","x":0.42,"y":-0.09},{"species":"FB","x":-0.62,"y":-0.3},{"species":"FB","x":-0.62,"y":-0.58},{"species":"FB","x":-0.62,"y":-0.74},{"species":"FB","x":-0.53,"y":-0.63},{"species":"FB","x":-0.53,"y":-0.90},{"species":"FB","x":-0.456,"y":-0.41},{"species":"FB","x":-0.456,"y":-0.63},{"species":"FB","x":-0.456,"y":-0.82},{"species":"FB","x":-0.22,"y":-0.63},{"species":"FB","x":-0.22,"y":-1.01},{"species":"FB","x":-0.08,"y":-0.58},{"species":"FB","x":-0.08,"y":-0.74},{"species":"FB","x":-0.08,"y":-0.90},{"species":"FB","x":-0.08,"y":-1.06},{"species":"FB","x":-0.08,"y":-1.2},{"species":"FB","x":-0.04,"y":-0.22},{"species":"FB","x":0.22,"y":-0.52},{"species":"FB","x":0.22,"y":-0.79},{"species":"FB","x":0.22,"y":-1.01},{"species":"FB","x":0.36,"y":-0.74},{"species":"FB","x":0.42,"y":-0.52},{"species":"FB","x":0.42,"y":-0.9},{"species":"FB","x":0.42,"y":-1.06},{"species":"FB","x":0.42,"y":-1.28},{"species":"FB","x":0.80,"y":-1.01},{"species":"FB","x":0.80,"y":-1.32},{"species":"FB","x":0.86,"y":-0.52},{"species":"FB","x":0.86,"y":-0.63},{"species":"FB","x":0.86,"y":-0.85},{"species":"FB","x":0.86,"y":-1.2},{"species":"FB","x":1.14,"y":-0.90},{"species":"FB","x":1.14,"y":-1.01},{"species":"FB","x":-0.456,"y":-0.03},
{"species":"PA","x":-0.456,"y":1.30},{"species":"PA","x":-0.456,"y":0.97},{"species":"PA","x":-0.48,"y":0.78},{"species":"PA","x":-0.53,"y":0.46},{"species":"PA","x":-0.456,"y":0.46},{"species":"PA","x":-0.53,"y":0.24},{"species":"PA","x":-0.62,"y":-0.09},{"species":"PA","x":-0.04,"y":0.97},{"species":"PA","x":-0.04,"y":0.84},{"species":"PA","x":-0.04,"y":0.70},{"species":"PA","x":-0.04,"y":0.56},{"species":"PA","x":-0.08,"y":0.35},{"species":"PA","x":-0.04,"y":-0.09},{"species":"PA","x":-0.22,"y":-0.09},{"species":"PA","x":-0.22,"y":-0.25},{"species":"PA","x":0.22,"y":0.78},{"species":"PA","x":0.22,"y":0.62},{"species":"PA","x":0.22,"y":-0.33},{"species":"PA","x":0.42,"y":0.62},{"species":"PA","x":0.42,"y":0.43},{"species":"PA","x":0.36,"y":0.29},{"species":"PA","x":0.36,"y":0.08},{"species":"PA","x":0.80,"y":-0.22},{"species":"PA","x":0.86,"y":1.28},{"species":"PA","x":1.14,"y":0.62},{"species":"PA","x":1.14,"y":0.18},{"species":"PA","x":1.14,"y":0.0},{"species":"PA","x":1.14,"y":-0.6},{"species":"PA","x":-0.48,"y":-0.87},{"species":"PA","x":-0.62,"y":0.10},{"species":"PA","x":0.80,"y":-0.03},{"species":"PA","x":-0.5,"y":0.2},{"species":"PA","x":0.22,"y":0.15},{"species":"PA","x":-0.08,"y":-0.55}
],
"fFit": [
{"species":"ES","x":-0.62,"lo":-0.27,"fit":-0.06,"hi":0.14},{"species":"ES","x":0.25,"lo":-0.01,"fit":0.08,"hi":0.17},{"species":"ES","x":1.15,"lo":0.0,"fit":0.28,"hi":0.57},
{"species":"FB","x":-0.62,"lo":-0.58,"fit":-0.42,"hi":-0.28},{"species":"FB","x":0.25,"lo":-0.68,"fit":-0.62,"hi":-0.56},{"species":"FB","x":1.15,"lo":-1.12,"fit":-0.83,"hi":-0.54},
{"species":"PA","x":-0.62,"lo":-0.25,"fit":-0.04,"hi":0.16},{"species":"PA","x":0.25,"lo":0.02,"fit":0.1,"hi":0.18},{"species":"PA","x":1.15,"lo":-0.03,"fit":0.29,"hi":0.59}
],
"g": [
{"species":"ES","x":-0.975,"y":0.345},{"species":"ES","x":-0.88,"y":0.29},{"species":"ES","x":-0.69,"y":0.47},{"species":"ES","x":-0.64,"y":0.41},{"species":"ES","x":-0.51,"y":0.45},{"species":"ES","x":-0.6,"y":0.30},{"species":"ES","x":-0.56,"y":0.30},{"species":"ES","x":-0.37,"y":0.34},{"species":"ES","x":-0.39,"y":0.32},{"species":"ES","x":-0.18,"y":0.27},{"species":"ES","x":-0.14,"y":0.29},{"species":"ES","x":-0.03,"y":0.33},{"species":"ES","x":0.0,"y":0.31},{"species":"ES","x":0.09,"y":0.28},{"species":"ES","x":0.075,"y":0.55},{"species":"ES","x":0.38,"y":0.30},{"species":"ES","x":0.61,"y":0.25},{"species":"ES","x":0.63,"y":0.23},{"species":"ES","x":0.70,"y":0.49},{"species":"ES","x":0.91,"y":0.27},{"species":"ES","x":0.94,"y":0.25},{"species":"ES","x":0.94,"y":0.15},{"species":"ES","x":0.53,"y":0.18},{"species":"ES","x":0.79,"y":0.12},{"species":"ES","x":-0.975,"y":0.15},{"species":"ES","x":-0.85,"y":0.18},{"species":"ES","x":-0.64,"y":0.16},{"species":"ES","x":-0.4,"y":0.15},{"species":"ES","x":-0.19,"y":0.11},{"species":"ES","x":-0.07,"y":0.11},{"species":"ES","x":0.04,"y":0.09},{"species":"ES","x":0.18,"y":0.09},{"species":"ES","x":-0.14,"y":0.05},{"species":"ES","x":0.0,"y":0.03},{"species":"ES","x":0.15,"y":0.01},{"species":"ES","x":0.32,"y":0.01},{"species":"ES","x":0.5,"y":0.01},{"species":"ES","x":0.61,"y":0.04},{"species":"ES","x":-0.48,"y":-0.38},{"species":"ES","x":-0.32,"y":-0.41},{"species":"ES","x":-0.21,"y":-0.52},{"species":"ES","x":0.075,"y":-0.56},{"species":"ES","x":0.38,"y":-0.52},{"species":"ES","x":0.52,"y":-0.47},{"species":"ES","x":0.89,"y":-0.47},{"species":"ES","x":0.59,"y":-0.11},{"species":"ES","x":0.43,"y":-0.15},{"species":"ES","x":0.86,"y":-0.15},{"species":"ES","x":0.89,"y":-0.16},{"species":"ES","x":-0.99,"y":-0.14},{"species":"ES","x":-0.6,"y":0.0},{"species":"ES","x":-0.78,"y":-0.02},{"species":"ES","x":-0.42,"y":-0.07},{"species":"ES","x":-0.28,"y":-0.03},{"species":"ES","x":0.07,"y":-0.07},{"species":"ES","x":0.22,"y":-0.11},{"species":"ES","x":0.36,"y":-0.15},{"species":"ES","x":0.72,"y":-0.22},{"species":"ES","x":-0.09,"y":0.2},
{"species":"FB","x":-0.01,"y":0.22},{"species":"FB","x":-0.59,"y":0.12},{"species":"FB","x":-0.32,"y":0.10},{"species":"FB","x":0.32,"y":0.11},{"species":"FB","x":0.42,"y":0.11},{"species":"FB","x":0.92,"y":0.11},{"species":"FB","x":1.34,"y":0.01},{"species":"FB","x":0.72,"y":0.0},{"species":"FB","x":0.72,"y":-0.05},{"species":"FB","x":0.15,"y":0.01},{"species":"FB","x":-0.42,"y":-0.09},{"species":"FB","x":-0.28,"y":-0.11},{"species":"FB","x":-0.14,"y":-0.11},{"species":"FB","x":0.0,"y":-0.13},{"species":"FB","x":0.07,"y":-0.15},{"species":"FB","x":0.18,"y":-0.07},{"species":"FB","x":0.36,"y":-0.07},{"species":"FB","x":0.47,"y":-0.18},{"species":"FB","x":0.57,"y":-0.18},{"species":"FB","x":0.72,"y":-0.22},{"species":"FB","x":-0.94,"y":-0.25},{"species":"FB","x":-0.92,"y":-0.30},{"species":"FB","x":-0.71,"y":-0.32},{"species":"FB","x":-0.57,"y":-0.43},{"species":"FB","x":-0.16,"y":-0.46},{"species":"FB","x":-0.07,"y":-0.53},{"species":"FB","x":0.2,"y":-0.59},{"species":"FB","x":0.72,"y":-0.56},{"species":"FB","x":0.79,"y":-0.57},{"species":"FB","x":0.72,"y":-0.51},{"species":"FB","x":1.34,"y":-0.31},{"species":"FB","x":1.34,"y":-0.45},{"species":"FB","x":0.93,"y":-0.43},{"species":"FB","x":0.32,"y":-0.45},{"species":"FB","x":0.43,"y":-0.34},{"species":"FB","x":0.15,"y":-0.24},{"species":"FB","x":-0.35,"y":-0.18},{"species":"FB","x":-0.78,"y":-0.18},{"species":"FB","x":0.0,"y":-0.36},
{"species":"PA","x":-0.79,"y":0.21},{"species":"PA","x":-0.85,"y":0.13},{"species":"PA","x":-0.71,"y":0.11},{"species":"PA","x":-0.64,"y":0.05},{"species":"PA","x":-0.85,"y":-0.03},{"species":"PA","x":-0.73,"y":-0.05},{"species":"PA","x":-0.96,"y":-0.26},{"species":"PA","x":-0.78,"y":-0.22},{"species":"PA","x":-0.64,"y":-0.26},{"species":"PA","x":-0.67,"y":-0.34},{"species":"PA","x":-0.65,"y":-0.43},{"species":"PA","x":-0.57,"y":-0.47},{"species":"PA","x":-0.81,"y":-0.49},{"species":"PA","x":-0.67,"y":-0.5},{"species":"PA","x":-0.39,"y":-0.55},{"species":"PA","x":-0.28,"y":-0.50},{"species":"PA","x":-0.46,"y":-0.42},{"species":"PA","x":-0.25,"y":-0.34},{"species":"PA","x":-0.14,"y":-0.30},{"species":"PA","x":-0.07,"y":-0.34},{"species":"PA","x":0.0,"y":-0.32},{"species":"PA","x":-0.03,"y":-0.42},{"species":"PA","x":0.075,"y":-0.38},{"species":"PA","x":0.18,"y":-0.34},{"species":"PA","x":0.075,"y":-0.51},{"species":"PA","x":0.36,"y":-0.24},{"species":"PA","x":0.39,"y":-0.36},{"species":"PA","x":0.39,"y":-0.53},{"species":"PA","x":0.54,"y":-0.42},{"species":"PA","x":0.64,"y":-0.32},{"species":"PA","x":0.72,"y":-0.40},{"species":"PA","x":0.86,"y":-0.44},{"species":"PA","x":0.96,"y":-0.51},{"species":"PA","x":0.89,"y":-0.24},{"species":"PA","x":0.22,"y":0.05},{"species":"PA","x":0.57,"y":0.01},{"species":"PA","x":-0.21,"y":-0.24},{"species":"PA","x":-0.46,"y":-0.2},{"species":"PA","x":-0.35,"y":-0.3},{"species":"PA","x":0.15,"y":-0.18},{"species":"PA","x":0.36,"y":-0.11}
],
"gFit": [
{"species":"ES","x":-0.97,"lo":0.0,"fit":0.065,"hi":0.13},{"species":"ES","x":0.1,"lo":-0.06,"fit":-0.03,"hi":0.0},{"species":"ES","x":1.34,"lo":-0.23,"fit":-0.17,"hi":-0.11},
{"species":"FB","x":-0.97,"lo":-0.15,"fit":-0.11,"hi":-0.07},{"species":"FB","x":0.1,"lo":-0.2,"fit":-0.18,"hi":-0.16},{"species":"FB","x":1.34,"lo":-0.32,"fit":-0.27,"hi":-0.22},
{"species":"PA","x":-0.97,"lo":-0.27,"fit":-0.21,"hi":-0.15},{"species":"PA","x":0.1,"lo":-0.32,"fit":-0.29,"hi":-0.26},{"species":"PA","x":1.34,"lo":-0.52,"fit":-0.43,"hi":-0.34}
],
"h": [
{"species":"ES","x":-0.61,"y":0.45},{"species":"ES","x":-0.61,"y":0.29},{"species":"ES","x":-0.61,"y":0.22},{"species":"ES","x":-0.61,"y":0.11},{"species":"ES","x":-0.61,"y":0.01},{"species":"ES","x":-0.61,"y":-0.07},{"species":"ES","x":-0.61,"y":-0.15},{"species":"ES","x":-0.5,"y":0.32},{"species":"ES","x":-0.5,"y":0.26},{"species":"ES","x":-0.5,"y":0.15},{"species":"ES","x":-0.48,"y":0.55},{"species":"ES","x":-0.44,"y":0.49},{"species":"ES","x":-0.44,"y":0.32},{"species":"ES","x":-0.44,"y":0.18},{"species":"ES","x":-0.5,"y":0.01},{"species":"ES","x":-0.22,"y":0.47},{"species":"ES","x":-0.22,"y":0.26},{"species":"ES","x":-0.22,"y":0.11},{"species":"ES","x":-0.22,"y":0.05},{"species":"ES","x":-0.22,"y":-0.07},{"species":"ES","x":-0.22,"y":-0.40},{"species":"ES","x":-0.08,"y":0.34},{"species":"ES","x":-0.08,"y":0.22},{"species":"ES","x":-0.01,"y":0.35},{"species":"ES","x":-0.01,"y":0.28},{"species":"ES","x":-0.08,"y":0.11},{"species":"ES","x":-0.01,"y":0.05},{"species":"ES","x":-0.01,"y":-0.03},{"species":"ES","x":-0.01,"y":-0.15},{"species":"ES","x":-0.01,"y":-0.53},{"species":"ES","x":0.22,"y":0.27},{"species":"ES","x":0.22,"y":0.23},{"species":"ES","x":0.22,"y":0.05},{"species":"ES","x":0.22,"y":-0.03},{"species":"ES","x":0.22,"y":-0.15},{"species":"ES","x":0.36,"y":0.18},{"species":"ES","x":0.40,"y":-0.47},{"species":"ES","x":0.79,"y":0.41},{"species":"ES","x":0.79,"y":0.30},{"species":"ES","x":0.79,"y":0.16},{"species":"ES","x":0.79,"y":0.05},{"species":"ES","x":0.79,"y":-0.03},{"species":"ES","x":0.86,"y":0.17},{"species":"ES","x":1.13,"y":0.09},{"species":"ES","x":1.13,"y":-0.01},{"species":"ES","x":1.13,"y":-0.09},{"species":"ES","x":0.86,"y":-0.13},{"species":"ES","x":0.79,"y":-0.22},{"species":"ES","x":0.79,"y":-0.32},{"species":"ES","x":-0.61,"y":-0.22},{"species":"ES","x":-0.08,"y":-0.03},
{"species":"FB","x":-0.5,"y":0.11},{"species":"FB","x":-0.44,"y":0.11},{"species":"FB","x":-0.61,"y":0.02},{"species":"FB","x":-0.5,"y":-0.07},{"species":"FB","x":-0.5,"y":-0.15},{"species":"FB","x":-0.44,"y":-0.22},{"species":"FB","x":-0.5,"y":-0.30},{"species":"FB","x":-0.44,"y":-0.38},{"species":"FB","x":-0.44,"y":-0.45},{"species":"FB","x":-0.44,"y":-0.57},{"species":"FB","x":-0.22,"y":-0.11},{"species":"FB","x":-0.22,"y":-0.22},{"species":"FB","x":-0.22,"y":-0.34},{"species":"FB","x":-0.08,"y":-0.15},{"species":"FB","x":-0.08,"y":-0.24},{"species":"FB","x":-0.01,"y":0.22},{"species":"FB","x":-0.01,"y":0.11},{"species":"FB","x":-0.01,"y":-0.22},{"species":"FB","x":-0.01,"y":-0.47},{"species":"FB","x":0.22,"y":0.01},{"species":"FB","x":0.22,"y":-0.18},{"species":"FB","x":0.22,"y":-0.30},{"species":"FB","x":0.22,"y":-0.59},{"species":"FB","x":0.40,"y":0.10},{"species":"FB","x":0.40,"y":0.01},{"species":"FB","x":0.40,"y":-0.18},{"species":"FB","x":0.40,"y":-0.30},{"species":"FB","x":0.40,"y":-0.36},{"species":"FB","x":0.40,"y":-0.44},{"species":"FB","x":0.40,"y":-0.51},{"species":"FB","x":0.40,"y":-0.57},{"species":"FB","x":0.36,"y":-0.24},{"species":"FB","x":0.86,"y":0.11},{"species":"FB","x":0.86,"y":0.05},{"species":"FB","x":0.86,"y":-0.03},{"species":"FB","x":0.86,"y":-0.18},{"species":"FB","x":0.86,"y":-0.44},{"species":"FB","x":1.13,"y":-0.22},{"species":"FB","x":1.13,"y":-0.26},{"species":"FB","x":0.79,"y":-0.11},
{"species":"PA","x":-0.61,"y":-0.15},{"species":"PA","x":-0.61,"y":-0.22},{"species":"PA","x":-0.61,"y":-0.30},{"species":"PA","x":-0.61,"y":-0.36},{"species":"PA","x":-0.5,"y":-0.18},{"species":"PA","x":-0.5,"y":-0.34},{"species":"PA","x":-0.5,"y":-0.42},{"species":"PA","x":-0.5,"y":-0.49},{"species":"PA","x":-0.44,"y":-0.45},{"species":"PA","x":-0.44,"y":-0.34},{"species":"PA","x":-0.22,"y":-0.38},{"species":"PA","x":-0.22,"y":-0.45},{"species":"PA","x":-0.22,"y":-0.53},{"species":"PA","x":-0.08,"y":-0.30},{"species":"PA","x":-0.08,"y":-0.38},{"species":"PA","x":-0.08,"y":-0.53},{"species":"PA","x":-0.01,"y":-0.18},{"species":"PA","x":-0.01,"y":-0.34},{"species":"PA","x":0.22,"y":-0.32},{"species":"PA","x":0.22,"y":-0.40},{"species":"PA","x":0.22,"y":-0.47},{"species":"PA","x":0.22,"y":-0.53},{"species":"PA","x":0.36,"y":-0.45},{"species":"PA","x":0.36,"y":-0.53},{"species":"PA","x":0.79,"y":0.21},{"species":"PA","x":0.79,"y":0.13},{"species":"PA","x":0.79,"y":-0.15},{"species":"PA","x":0.79,"y":-0.26},{"species":"PA","x":0.79,"y":-0.36},{"species":"PA","x":0.86,"y":-0.22},{"species":"PA","x":1.13,"y":0.15},{"species":"PA","x":1.13,"y":0.05},{"species":"PA","x":1.13,"y":-0.15},{"species":"PA","x":1.13,"y":-0.22},{"species":"PA","x":1.13,"y":-0.49},{"species":"PA","x":0.40,"y":-0.30}
],
"hFit": [
{"species":"ES","x":-0.62,"lo":-0.02,"fit":0.01,"hi":0.04},{"species":"ES","x":0.25,"lo":-0.07,"fit":-0.045,"hi":-0.02},{"species":"ES","x":1.15,"lo":-0.16,"fit":-0.105,"hi":-0.05},
{"species":"FB","x":-0.62,"lo":-0.22,"fit":-0.18,"hi":-0.135},{"species":"FB","x":0.25,"lo":-0.23,"fit":-0.21,"hi":-0.19},{"species":"FB","x":1.15,"lo":-0.34,"fit":-0.255,"hi":-0.165},
{"species":"PA","x":-0.62,"lo":-0.38,"fit":-0.34,"hi":-0.30},{"species":"PA","x":0.25,"lo":-0.31,"fit":-0.29,"hi":-0.27},{"species":"PA","x":1.15,"lo":-0.30,"fit":-0.235,"hi":-0.165}
]
},
"config": {
 "font": "Liberation Sans",
 "view": {"stroke": "#333333", "strokeWidth": 1.4},
 "axis": {"grid": false, "domainColor": "#333333", "domainWidth": 1.4, "tickColor": "#333333", "tickWidth": 1.4, "tickSize": 7, "labelFontSize": 21, "labelColor": "#222222", "titleFontSize": 21, "titleFontWeight": "normal", "titleColor": "#111111", "labelFlush": false, "labelOverlap": false},
 "axisX": {"labelPadding": 10, "titlePadding": 8},
 "axisY": {"labelPadding": 8, "titlePadding": 12},
 "title": {"fontSize": 20, "fontWeight": "normal", "anchor": "start", "frame": "group", "offset": 20, "color": "#111111"},
 "legend": {"titleFontWeight": "normal", "titleColor": "#222222", "labelColor": "#222222"}
}
}
